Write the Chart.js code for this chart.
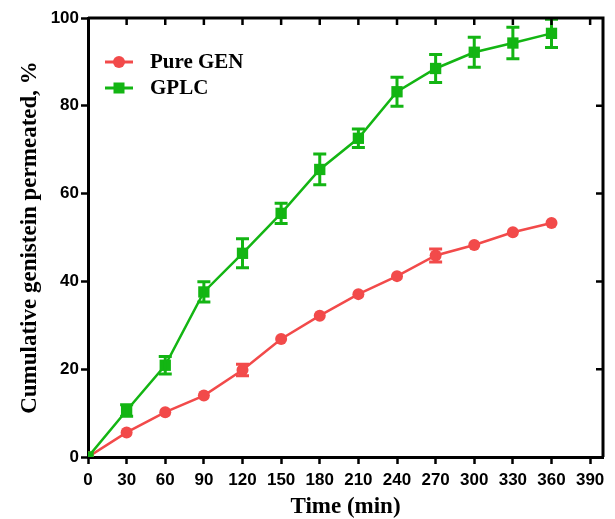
<!DOCTYPE html>
<html>
<head>
<meta charset="utf-8">
<script src="https://cdn.jsdelivr.net/npm/chart.js@4.4.1/dist/chart.umd.min.js"></script>
<style>
  html, body { margin: 0; padding: 0; background: #fff; }
  #wrap { width: 615px; height: 519px; }
</style>
</head>
<body>
<div id="wrap"><canvas id="chart" width="615" height="519"></canvas></div>
<script>
// time points (min)
const times = [0, 30, 60, 90, 120, 150, 180, 210, 240, 270, 300, 330, 360];

// Pure GEN (error bars hidden behind the markers except at 120 and 270)
const pureGen = [0, 5.6, 10.2, 14.0, 19.8, 26.9, 32.2, 37.1, 41.2, 45.9, 48.3, 51.2, 53.3];
const pureGenErr = [0, 0, 0, 0, 1.3, 0, 0, 0, 0, 1.5, 0, 0, 0];

// GPLC
const gplc = [0, 10.6, 20.9, 37.6, 46.4, 55.5, 65.5, 72.6, 83.2, 88.5, 92.2, 94.3, 96.5];
const gplcErr = [0, 1.3, 2.0, 2.3, 3.3, 2.3, 3.5, 2.1, 3.3, 3.2, 3.4, 3.6, 3.2];

const xTicks = [0, 30, 60, 90, 120, 150, 180, 210, 240, 270, 300, 330, 360, 390];
const yTicks = [0, 20, 40, 60, 80, 100];

const RED = '#f24a4a';
const GREEN = '#13b513';

const SERIF = '"Liberation Serif", "Times New Roman", serif';

function toXY(vals) {
    return times.map((t, i) => ({ x: t, y: vals[i] }));
}

// error bars drawn from the scales
const errorBars = {
    id: 'errorBars',
    afterDatasetsDraw(chart) {
        const ctx = chart.ctx;
        const xs = chart.scales.x, ys = chart.scales.y;
        const errs = [pureGenErr, gplcErr];
        chart.data.datasets.forEach((ds, di) => {
            ctx.save();
            ctx.strokeStyle = ds.borderColor;
            ctx.lineWidth = 3;
            ds.data.forEach((p, i) => {
                const e = errs[di][i];
                if (!e) return;
                const px = xs.getPixelForValue(p.x);
                const top = ys.getPixelForValue(Math.min(p.y + e, 100));
                const bot = ys.getPixelForValue(p.y - e);
                ctx.beginPath();
                ctx.moveTo(px, top); ctx.lineTo(px, bot);
                ctx.moveTo(px - 6.5, top); ctx.lineTo(px + 6.5, top);
                ctx.moveTo(px - 6.5, bot); ctx.lineTo(px + 6.5, bot);
                ctx.stroke();
            });
            ctx.restore();
        });
    }
};

// box frame with inward mirror ticks on top and right, plus legend
const frame = {
    id: 'frame',
    afterDraw(chart) {
        const { ctx, chartArea: a } = chart;
        const xs = chart.scales.x, ys = chart.scales.y;
        ctx.save();
        ctx.strokeStyle = '#000';
        ctx.lineWidth = 3;
        ctx.beginPath();
        ctx.moveTo(a.left, a.top); ctx.lineTo(a.right, a.top); ctx.lineTo(a.right, a.bottom);
        ctx.stroke();
        ctx.lineWidth = 2.5;
        ctx.beginPath();
        xTicks.forEach(v => {
            if (v === 0) return;
            const px = xs.getPixelForValue(v);
            ctx.moveTo(px, a.top); ctx.lineTo(px, a.top + 7);
        });
        yTicks.forEach(v => {
            if (v === 0 || v === 100) return;
            const py = ys.getPixelForValue(v);
            ctx.moveTo(a.right, py); ctx.lineTo(a.right - 7, py);
        });
        ctx.stroke();

        // legend: line + marker + label
        const lx = a.left + 17, ly = a.top + 44, gap = 26;
        chart.data.datasets.forEach((ds, i) => {
            const y = ly + i * gap;
            ctx.strokeStyle = ds.borderColor;
            ctx.fillStyle = ds.borderColor;
            ctx.lineWidth = 3;
            ctx.beginPath(); ctx.moveTo(lx, y); ctx.lineTo(lx + 28, y); ctx.stroke();
            if (i === 0) {
                ctx.beginPath(); ctx.arc(lx + 14, y, 6, 0, Math.PI * 2); ctx.fill();
            } else {
                ctx.fillRect(lx + 8.5, y - 5.5, 11, 11);
            }
            ctx.fillStyle = '#000';
            ctx.font = 'bold 21px ' + SERIF;
            ctx.textBaseline = 'middle';
            ctx.fillText(ds.label, lx + 45, y + 1);
        });
        ctx.restore();
    }
};

const tickFont = { family: '"Liberation Sans", Arial, sans-serif', size: 17, weight: 'bold' };
const titleFont = { family: SERIF, size: 23, weight: 'bold' };
const xTitleFont = { family: SERIF, size: 23, weight: 'bold', lineHeight: 1 };

new Chart(document.getElementById('chart'), {
    type: 'line',
    data: {
        datasets: [
            {
                label: 'Pure GEN',
                data: toXY(pureGen),
                borderColor: RED,
                backgroundColor: RED,
                borderWidth: 2.5,
                pointStyle: 'circle',
                pointRadius: 6,
                pointBorderWidth: 0,
                order: 2
            },
            {
                label: 'GPLC',
                data: toXY(gplc),
                borderColor: GREEN,
                backgroundColor: GREEN,
                borderWidth: 2.5,
                pointStyle: 'rect',
                pointRadius: 8,
                pointBorderWidth: 0,
                order: 1
            }
        ]
    },
    options: {
        responsive: false,
        animation: false,
        layout: { padding: { top: 18, right: 12, left: 12, bottom: 0 } },
        plugins: {
            legend: { display: false },
            tooltip: { enabled: false }
        },
        scales: {
            x: {
                type: 'linear',
                min: 0,
                max: 400,
                afterBuildTicks(s) { s.ticks = xTicks.map(v => ({ value: v })); },
                afterFit(s) { s.height = 62; },
                ticks: { font: tickFont, color: '#000', padding: 6, maxRotation: 0, autoSkip: false },
                grid: { drawOnChartArea: false, drawTicks: true, tickLength: 7, tickWidth: 2.5, color: '#000' },
                border: { width: 3, color: '#000' },
                title: { display: true, text: 'Time (min)', font: xTitleFont, color: '#000', padding: 0 }
            },
            y: {
                min: 0,
                max: 100,
                afterBuildTicks(s) { s.ticks = yTicks.map(v => ({ value: v })); },
                afterFit(s) { s.width = 76; },
                ticks: { font: tickFont, color: '#000', padding: 2 },
                grid: { drawOnChartArea: false, drawTicks: true, tickLength: 7, tickWidth: 2.5, color: '#000' },
                border: { width: 3, color: '#000' },
                title: { display: true, text: 'Cumulative genistein permeated, %', font: titleFont, color: '#000', padding: { bottom: 2 } }
            }
        }
    },
    plugins: [errorBars, frame]
});
</script>
</body>
</html>
